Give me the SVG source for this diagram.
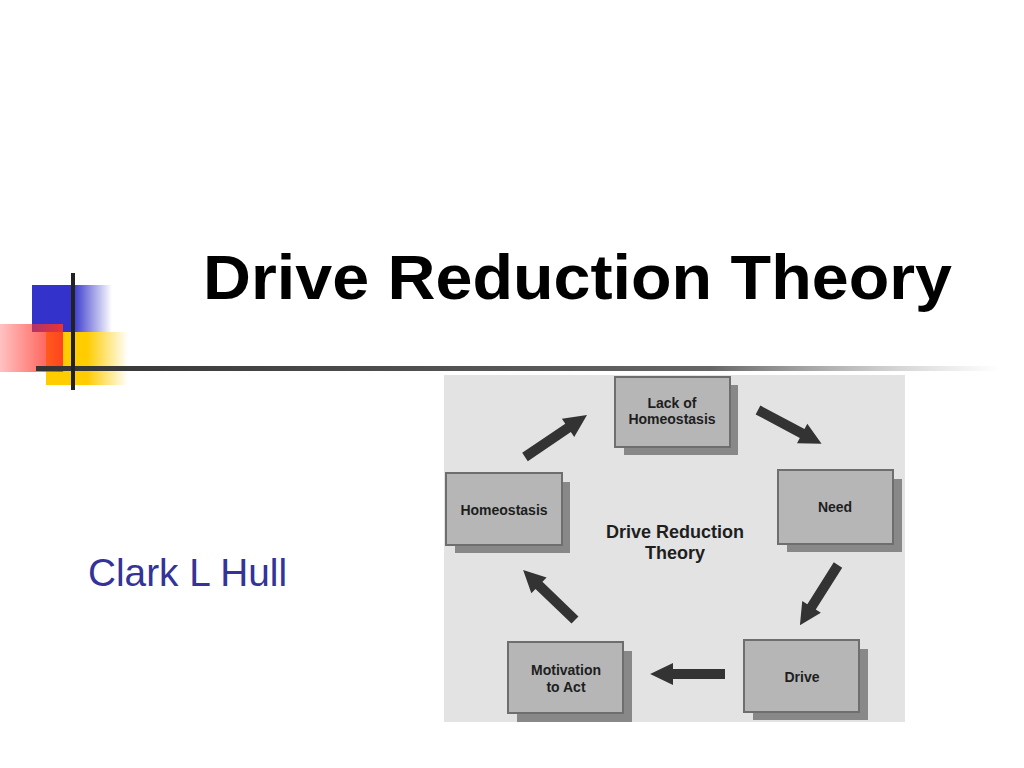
<svg xmlns="http://www.w3.org/2000/svg" width="1024" height="768" viewBox="0 0 1024 768">
<style>
.box{fill:#b6b6b6;stroke:#6e6e6e;stroke-width:2}
.shadow{fill:#888888}
.lbl{font-family:"Liberation Sans",Arial,sans-serif;font-weight:bold;font-size:14px;fill:#1e1e1e;text-anchor:middle}
.arr{fill:#333333}
</style>
<defs>
<linearGradient id="gBlue" gradientUnits="userSpaceOnUse" x1="32" y1="0" x2="112" y2="0">
<stop offset="0" stop-color="#3333cc"/><stop offset="0.5" stop-color="#3333cc"/><stop offset="1" stop-color="#3333cc" stop-opacity="0"/>
</linearGradient>
<linearGradient id="gYel" gradientUnits="userSpaceOnUse" x1="46" y1="0" x2="128" y2="0">
<stop offset="0" stop-color="#ffcc00"/><stop offset="0.5" stop-color="#ffcc00"/><stop offset="1" stop-color="#ffcc00" stop-opacity="0"/>
</linearGradient>
<linearGradient id="gRed" gradientUnits="userSpaceOnUse" x1="0" y1="0" x2="63" y2="0">
<stop offset="0" stop-color="#ff3333" stop-opacity="0.3"/><stop offset="1" stop-color="#ff3322" stop-opacity="0.9"/>
</linearGradient>
<linearGradient id="gRule" gradientUnits="userSpaceOnUse" x1="36" y1="0" x2="1000" y2="0">
<stop offset="0" stop-color="#333333"/><stop offset="0.7" stop-color="#666666"/><stop offset="1" stop-color="#999999" stop-opacity="0"/>
</linearGradient>
<path id="arr" d="M0,-5 L50,-5 L50,-11 L72,0 L50,11 L50,5 L0,5 Z"/>
</defs>
<rect width="1024" height="768" fill="#ffffff"/>
<g id="decor">
<rect x="32" y="285" width="80" height="47" fill="url(#gBlue)"/>
<rect x="46" y="332" width="82" height="53" fill="url(#gYel)"/>
<rect x="0" y="324" width="63" height="48" fill="url(#gRed)"/>
<rect x="36" y="366" width="964" height="5" fill="url(#gRule)"/>
<rect x="71" y="273" width="4" height="117" fill="#222222"/>
</g>
<text x="203" y="299" font-family="Liberation Sans,Arial,sans-serif" font-weight="bold" font-size="63" fill="#000" textLength="749" lengthAdjust="spacingAndGlyphs">Drive Reduction Theory</text>
<text x="88" y="586" font-family="Liberation Sans,Arial,sans-serif" font-size="39" fill="#333399" textLength="199" lengthAdjust="spacingAndGlyphs">Clark L Hull</text>
<rect id="panel" x="444" y="375" width="461" height="347" fill="#e3e3e3"/>
<g id="node-lack">
<rect class="shadow" x="624" y="385" width="114" height="70"/>
<rect class="box" x="615" y="377" width="115" height="70"/>
<text class="lbl" x="672" y="408">Lack of</text>
<text class="lbl" x="672" y="424">Homeostasis</text>
</g>
<g id="node-need">
<rect class="shadow" x="787" y="479" width="115" height="73"/>
<rect class="box" x="778" y="470" width="115" height="74"/>
<text class="lbl" x="835" y="512">Need</text>
</g>
<g id="node-drive">
<rect class="shadow" x="753" y="649" width="115" height="71"/>
<rect class="box" x="744" y="640" width="115" height="72"/>
<text class="lbl" x="802" y="682">Drive</text>
</g>
<g id="node-motivation">
<rect class="shadow" x="517" y="651" width="115" height="71"/>
<rect class="box" x="508" y="642" width="115" height="71"/>
<text class="lbl" x="566" y="675">Motivation</text>
<text class="lbl" x="566" y="692">to Act</text>
</g>
<g id="node-homeostasis">
<rect class="shadow" x="455" y="482" width="115" height="71"/>
<rect class="box" x="446" y="473" width="116" height="72"/>
<text class="lbl" x="504" y="515">Homeostasis</text>
</g>
<g id="center-label">
<text x="675" y="538" font-family="Liberation Sans,Arial,sans-serif" font-weight="bold" font-size="18" fill="#1e1e1e" text-anchor="middle">Drive Reduction</text>
<text x="675" y="559" font-family="Liberation Sans,Arial,sans-serif" font-weight="bold" font-size="18" fill="#1e1e1e" text-anchor="middle">Theory</text>
</g>
<g id="connectors">
<use href="#arr" class="arr" transform="translate(525,457) rotate(-34.1) scale(1.04,1)"/>
<use href="#arr" class="arr" transform="translate(758,410) rotate(28) scale(1.0,1)"/>
<use href="#arr" class="arr" transform="translate(838,565) rotate(122.3) scale(0.99,1)"/>
<use href="#arr" class="arr" transform="translate(725,674) rotate(180) scale(1.04,1)"/>
<use href="#arr" class="arr" transform="translate(575,620) rotate(-136.1) scale(1.0,1)"/>
</g>
</svg>
